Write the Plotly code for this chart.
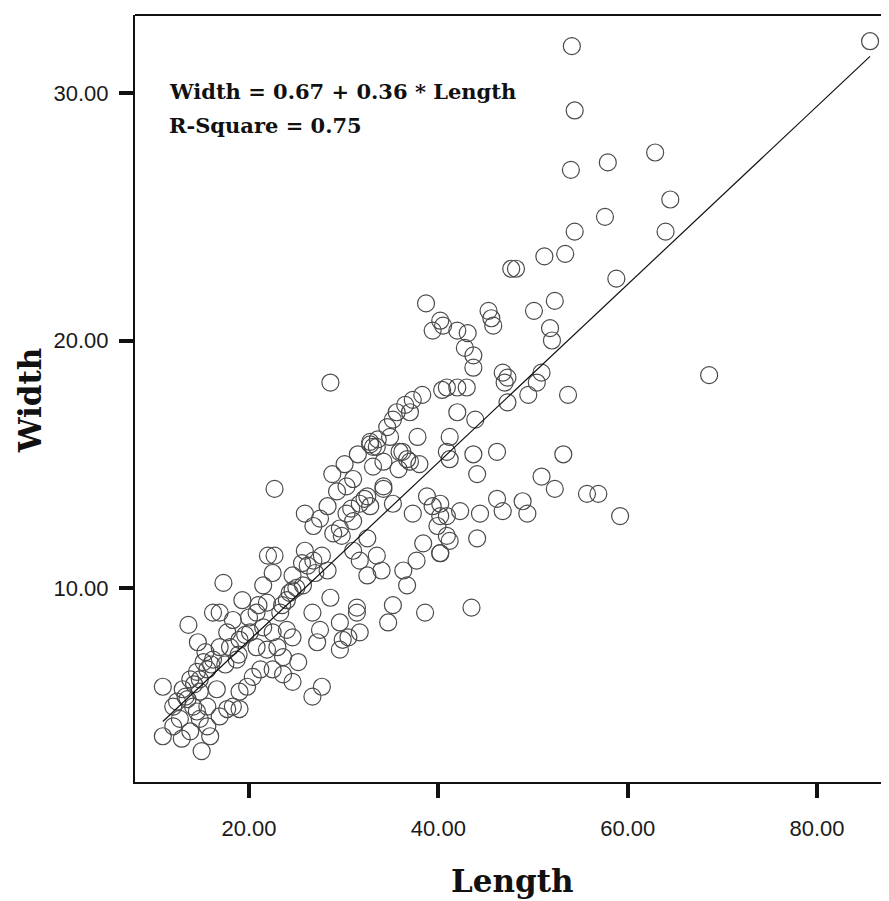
import plotly.graph_objects as go

# Length (x) and Width (y) values
length = [
    54.1, 85.6, 54.4, 54.0, 57.9, 62.9, 64.5, 57.6, 54.4, 64.0,
    47.7, 48.2, 51.2, 53.4, 58.8, 50.1, 52.3, 45.3, 45.6, 45.8,
    51.8, 52.0, 40.5, 42.0, 43.1, 42.8, 43.7, 43.7, 68.6, 53.7,
    46.8, 47.3, 47.0, 50.9, 50.4, 49.5, 47.3, 40.9, 42.0, 43.0,
    42.0, 43.9, 41.2, 38.7, 39.4, 40.2, 28.6, 40.4, 38.3, 37.3,
    36.5, 35.6, 35.2, 34.6, 33.6, 37.8, 33.5, 32.8, 37.0, 34.9,
    43.7, 46.2, 53.2, 44.1, 50.9, 52.3, 55.7, 56.9, 59.2, 48.9,
    49.4, 46.2, 46.8, 44.4, 42.3, 40.9, 44.1, 41.2, 43.5, 40.2,
    40.2,
    22.7, 28.8, 31.0, 32.8, 34.2, 35.9, 37.0, 33.1, 32.5, 34.2,
    35.2, 31.7, 30.3, 29.3, 28.3, 27.5, 25.9, 26.8, 29.6, 31.0,
    29.8, 37.3, 38.8, 39.4, 40.2, 39.9, 40.9, 38.4, 37.7, 36.3,
    36.7, 35.2, 34.7, 38.6, 40.2, 32.5, 33.5, 31.7, 32.5, 34.0,
    31.0, 31.4, 29.6, 29.6, 31.7, 30.5, 29.9, 28.6, 27.5, 27.2,
    26.7, 25.7, 24.6, 25.9, 26.8, 27.7, 28.3, 27.0, 25.6, 24.6,
    24.0, 23.3, 22.5, 22.7, 22.0, 21.5, 21.9, 20.8, 20.1, 21.5,
    22.5, 24.0, 24.6, 18.3, 19.3, 16.9, 16.2, 17.3, 13.6, 14.6,
    15.4, 17.7, 18.0, 19.0, 16.9, 16.2, 18.7, 20.8, 21.9, 23.0,
    23.6, 25.2, 22.5, 21.2, 20.4, 19.8, 19.0, 23.6, 24.6, 26.7,
    27.7, 18.3, 19.0, 17.7, 16.9, 15.6, 14.8, 14.5, 15.6, 13.8,
    13.0, 10.9, 12.0, 12.7, 14.1, 14.8, 15.6, 15.9, 13.8, 12.9,
    10.9, 15.0, 13.5, 14.5, 12.0, 14.8, 16.6,
    31.4, 33.1, 36.2, 36.7, 40.9, 41.2, 30.3, 32.2, 32.8, 34.2,
    30.1, 31.5, 23.5, 24.3, 20.0, 21.0, 18.9, 17.5, 14.2, 13.3,
    12.4, 16.0, 15.2, 19.6, 25.0, 26.2, 28.9, 30.8, 35.8, 38.0,
]
width = [
    31.9, 32.1, 29.3, 26.9, 27.2, 27.6, 25.7, 25.0, 24.4, 24.4,
    22.9, 22.9, 23.4, 23.5, 22.5, 21.2, 21.6, 21.2, 20.9, 20.6,
    20.5, 20.0, 20.6, 20.4, 20.3, 19.7, 19.4, 18.9, 18.6, 17.8,
    18.7, 18.5, 18.3, 18.7, 18.3, 17.8, 17.5, 18.1, 18.1, 18.1,
    17.1, 16.8, 16.1, 21.5, 20.4, 20.8, 18.3, 18.0, 17.8, 17.6,
    17.4, 17.1, 16.8, 16.5, 16.0, 16.1, 15.7, 15.9, 17.1, 16.1,
    15.4, 15.5, 15.4, 14.6, 14.5, 14.0, 13.8, 13.8, 12.9, 13.5,
    13.0, 13.6, 13.1, 13.0, 13.1, 12.9, 12.0, 11.9, 9.2, 13.4,
    11.4,
    14.0, 14.6, 14.4, 15.8, 15.1, 15.5, 15.1, 14.9, 13.7, 14.0,
    13.4, 13.4, 13.0, 13.9, 13.3, 12.8, 13.0, 12.5, 12.4, 12.7,
    12.1, 13.0, 13.7, 13.3, 12.9, 12.5, 12.1, 11.8, 11.1, 10.7,
    10.1, 9.3, 8.6, 9.0, 11.4, 12.0, 11.3, 11.1, 10.5, 10.7,
    11.5, 9.0, 8.6, 7.5, 8.2, 8.0, 7.9, 9.6, 8.3, 7.8,
    9.0, 10.1, 10.5, 11.5, 11.1, 11.3, 10.7, 10.6, 11.0, 9.9,
    9.5, 9.0, 10.6, 11.3, 11.3, 10.1, 9.4, 9.0, 8.2, 8.4,
    8.2, 8.3, 8.0, 8.7, 9.5, 9.0, 9.0, 10.2, 8.5, 7.8,
    7.4, 8.2, 7.6, 7.9, 7.6, 7.1, 7.1, 7.6, 7.5, 7.6,
    7.2, 7.0, 6.7, 6.7, 6.4, 6.0, 5.8, 6.5, 6.2, 5.6,
    6.0, 5.2, 5.1, 5.1, 4.8, 5.2, 5.8, 6.6, 6.7, 6.3,
    5.9, 6.0, 5.2, 4.7, 5.2, 4.7, 4.4, 4.0, 4.2, 3.9,
    4.0, 3.4, 5.5, 5.0, 4.4, 6.3, 5.9,
    9.2, 15.7, 15.5, 15.2, 15.5, 15.2, 14.1, 13.6, 13.3, 14.1,
    15.0, 15.4, 9.3, 9.8, 8.8, 9.3, 7.3, 6.9, 6.1, 5.6,
    5.4, 6.9, 7.0, 8.1, 10.0, 10.9, 12.2, 13.2, 14.8, 15.0,
]

intercept = 0.67
slope = 0.36
eq_text = "Width = 0.67 + 0.36 * Length"
r2_text = "R-Square = 0.75"
x_ticks = [20, 40, 60, 80]
y_ticks = [10, 20, 30]

x_min, x_max = min(length), max(length)
fit_x = [x_min, x_max]
fit_y = [intercept + slope * v for v in fit_x]

fig = go.Figure()
fig.add_trace(go.Scatter(
    x=length, y=width, mode="markers",
    marker=dict(symbol="circle-open", size=17,
                line=dict(color="#4a4a4a", width=1.2), color="#4a4a4a"),
    showlegend=False, hoverinfo="x+y",
))
fig.add_trace(go.Scatter(
    x=fit_x, y=fit_y, mode="lines",
    line=dict(color="#111111", width=1.2), showlegend=False,
))

tick_font = dict(family="Liberation Sans", size=22, color="#1a1a1a")
fig.update_layout(
    width=881, height=893,
    margin=dict(l=127, r=0, t=7, b=119),
    paper_bgcolor="white", plot_bgcolor="white",
    xaxis=dict(
        range=[7.96, 87.6], tickvals=x_ticks, tickformat=".2f",
        ticks="outside", ticklen=14, tickwidth=4, tickcolor="#111",
        showline=True, linecolor="#111", linewidth=2,
        showgrid=False, zeroline=False, tickfont=tick_font,
        ticklabelstandoff=12,
    ),
    yaxis=dict(
        range=[2.15, 33.16], tickvals=y_ticks, tickformat=".2f",
        ticks="outside", ticklen=14, tickwidth=4, tickcolor="#111",
        showline=True, linecolor="#111", linewidth=2,
        showgrid=False, zeroline=False, tickfont=tick_font,
        ticklabelstandoff=6,
    ),
    shapes=[dict(type="line", xref="paper", yref="paper", x0=0, x1=1, y0=1, y1=1,
                 line=dict(color="#111", width=2))],
    annotations=[
        dict(text="<b>" + eq_text + "</b>", xref="paper", yref="paper", x=0.043, y=0.900,
             xanchor="left", yanchor="middle", showarrow=False,
             font=dict(family="DejaVu Serif", size=21, color="#111")),
        dict(text="<b>" + r2_text + "</b>", xref="paper", yref="paper", x=0.043, y=0.856,
             xanchor="left", yanchor="middle", showarrow=False,
             font=dict(family="DejaVu Serif", size=21, color="#111")),
        dict(text="<b>Length</b>", xref="paper", yref="paper", x=0.5, y=-0.129,
             xanchor="center", yanchor="middle", showarrow=False,
             font=dict(family="DejaVu Serif", size=31, color="#111")),
        dict(text="<b>Width</b>", xref="paper", yref="paper", x=-0.139, y=0.498,
             xanchor="center", yanchor="middle", showarrow=False, textangle=-90,
             font=dict(family="DejaVu Serif", size=31, color="#111")),
    ],
)

fig.write_html("out.html")
